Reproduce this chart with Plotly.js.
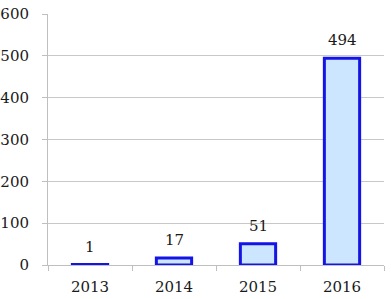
<!DOCTYPE html>
<html><head><meta charset="utf-8">
<script src="https://cdn.plot.ly/plotly-3.0.1.min.js"></script>
<style>html,body{margin:0;padding:0;background:#fff}</style>
</head><body><div id="chart" style="width:391px;height:299px"></div>
<script>
var years = ['2013', '2014', '2015', '2016'];
var counts = [1, 17, 51, 494];
var yTicks = [0, 100, 200, 300, 400, 500, 600];

var fnt = {family: 'DejaVu Serif', size: 15, color: '#1a1a1a'};

Plotly.newPlot('chart', [{
  type: 'bar',
  x: years,
  y: counts,
  width: 0.42,
  marker: {color: '#cce6ff', line: {color: '#1414e6', width: 3}},
  hoverinfo: 'none'
}], {
  width: 391, height: 299,
  margin: {l: 48, r: 7, t: 14, b: 34},
  paper_bgcolor: '#fff', plot_bgcolor: '#fff',
  font: fnt,
  showlegend: false,
  xaxis: {
    type: 'category',
    range: [-0.5, years.length - 0.5],
    showline: true, linecolor: '#bfbfbf', linewidth: 1,
    ticks: 'outside', tickson: 'boundaries', ticklen: 5, tickcolor: '#bfbfbf',
    ticklabelstandoff: 8,
    showgrid: false, zeroline: false,
    tickfont: fnt
  },
  yaxis: {
    range: [0, 600], tickvals: yTicks, ticktext: yTicks.map(String),
    showline: true, linecolor: '#bfbfbf', linewidth: 1,
    ticks: 'outside', ticklen: 5, tickcolor: '#bfbfbf',
    ticklabelstandoff: 10,
    showgrid: true, gridcolor: '#c8c8c8', gridwidth: 1,
    zeroline: false,
    tickfont: fnt
  },
  annotations: years.map(function (yr, i) {
    return {x: i, y: counts[i], text: String(counts[i]), showarrow: false,
      xanchor: 'center', yanchor: 'bottom', yshift: 7, font: fnt};
  })
}, {displayModeBar: false, staticPlot: true});
</script></body></html>
